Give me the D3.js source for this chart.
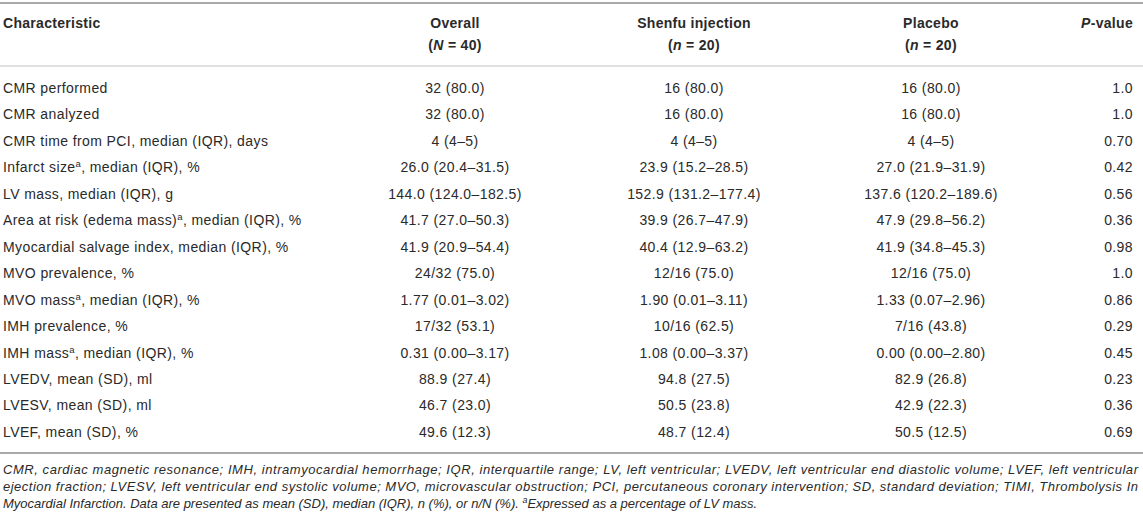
<!DOCTYPE html>
<meta charset="utf-8">
<head>
<style>
  body { margin: 0; background: #fff; }
  svg text { font-family: "Liberation Sans", Arial, sans-serif; fill: #2a2a2a; }
</style>
</head>
<body>
<script src="https://cdn.jsdelivr.net/npm/d3@7"></script>
<script>
// table content
var characteristics = [
  "CMR performed",
  "CMR analyzed",
  "CMR time from PCI, median (IQR), days",
  "Infarct size^a, median (IQR), %",
  "LV mass, median (IQR), g",
  "Area at risk (edema mass)^a, median (IQR), %",
  "Myocardial salvage index, median (IQR), %",
  "MVO prevalence, %",
  "MVO mass^a, median (IQR), %",
  "IMH prevalence, %",
  "IMH mass^a, median (IQR), %",
  "LVEDV, mean (SD), ml",
  "LVESV, mean (SD), ml",
  "LVEF, mean (SD), %"
];
var overall = ["32 (80.0)", "32 (80.0)", "4 (4–5)", "26.0 (20.4–31.5)", "144.0 (124.0–182.5)",
  "41.7 (27.0–50.3)", "41.9 (20.9–54.4)", "24/32 (75.0)", "1.77 (0.01–3.02)", "17/32 (53.1)",
  "0.31 (0.00–3.17)", "88.9 (27.4)", "46.7 (23.0)", "49.6 (12.3)"];
var shenfu = ["16 (80.0)", "16 (80.0)", "4 (4–5)", "23.9 (15.2–28.5)", "152.9 (131.2–177.4)",
  "39.9 (26.7–47.9)", "40.4 (12.9–63.2)", "12/16 (75.0)", "1.90 (0.01–3.11)", "10/16 (62.5)",
  "1.08 (0.00–3.37)", "94.8 (27.5)", "50.5 (23.8)", "48.7 (12.4)"];
var placebo = ["16 (80.0)", "16 (80.0)", "4 (4–5)", "27.0 (21.9–31.9)", "137.6 (120.2–189.6)",
  "47.9 (29.8–56.2)", "41.9 (34.8–45.3)", "12/16 (75.0)", "1.33 (0.07–2.96)", "7/16 (43.8)",
  "0.00 (0.00–2.80)", "82.9 (26.8)", "42.9 (22.3)", "50.5 (12.5)"];
var pValues = ["1.0", "1.0", "0.70", "0.42", "0.56", "0.36", "0.98", "1.0", "0.86", "0.29",
  "0.45", "0.23", "0.36", "0.69"];

var columnKeys = ["char", "overall", "shenfu", "placebo", "p"];
var headerLine1 = ["Characteristic", "Overall", "Shenfu injection", "Placebo", "*P*-value"];
var headerLine2 = ["", "(*N* = 40)", "(*n* = 20)", "(*n* = 20)", ""];

var footnotes = [
  "CMR, cardiac magnetic resonance; IMH, intramyocardial hemorrhage; IQR, interquartile range; LV, left ventricular; LVEDV, left ventricular end diastolic volume; LVEF, left ventricular",
  "ejection fraction; LVESV, left ventricular end systolic volume; MVO, microvascular obstruction; PCI, percutaneous coronary intervention; SD, standard deviation; TIMI, Thrombolysis In",
  "Myocardial Infarction. Data are presented as mean (SD), median (IQR), n (%), or n/N (%). ^aExpressed as a percentage of LV mass."
];

var W = 1143, H = 520;
var fs = 14;

var svg = d3.select("body").append("svg")
  .attr("width", W).attr("height", H);

// column x positions & anchors
var colX = d3.scaleOrdinal().domain(columnKeys).range([3, 455, 694, 931, 1133]);
var colAnchor = d3.scaleOrdinal().domain(columnKeys).range(["start", "middle", "middle", "middle", "end"]);

// rows
var rowY = d3.scalePoint().domain(d3.range(characteristics.length)).range([88, 432]);

// helper: write text with ^a superscripts and *italic* parts
function rich(sel, str) {
  var parts = str.split(/(\^a|\*[^*]+\*)/);
  parts.forEach(function(p) {
    if (!p) return;
    if (p === "^a") {
      sel.append("tspan").attr("baseline-shift", "super").attr("font-size", "68%").text("a");
    } else if (p[0] === "*") {
      sel.append("tspan").attr("font-style", "italic").text(p.slice(1, -1));
    } else {
      sel.append("tspan").text(p);
    }
  });
}

// rules
svg.append("line").attr("x1", 0).attr("x2", W).attr("y1", 3).attr("y2", 3)
  .attr("stroke", "#a9a9a9").attr("stroke-width", 2);
svg.append("line").attr("x1", 0).attr("x2", W).attr("y1", 66).attr("y2", 66)
  .attr("stroke", "#c4c4c4").attr("stroke-width", 1.2);
svg.append("line").attr("x1", 0).attr("x2", W).attr("y1", 453).attr("y2", 453)
  .attr("stroke", "#a9a9a9").attr("stroke-width", 2);

// header
columnKeys.forEach(function(k, i) {
  var t1 = svg.append("text")
    .attr("x", colX(k)).attr("y", 23).attr("dy", "0.35em")
    .attr("text-anchor", colAnchor(k)).attr("font-weight", "bold")
    .attr("font-size", fs).attr("letter-spacing", 0.3);
  rich(t1, headerLine1[i]);
  if (headerLine2[i]) {
    var t2 = svg.append("text")
      .attr("x", colX(k)).attr("y", 45).attr("dy", "0.35em")
      .attr("text-anchor", colAnchor(k)).attr("font-weight", "bold")
      .attr("font-size", fs).attr("letter-spacing", 0.3);
    rich(t2, headerLine2[i]);
  }
});

// body rows
var rows = characteristics.map(function(c, i) {
  return {char: c, overall: overall[i], shenfu: shenfu[i], placebo: placebo[i], p: pValues[i]};
});

rows.forEach(function(r, i) {
  columnKeys.forEach(function(k) {
    var t = svg.append("text")
      .attr("x", colX(k)).attr("y", rowY(i)).attr("dy", "0.35em")
      .attr("text-anchor", colAnchor(k))
      .attr("font-size", fs).attr("letter-spacing", 0.4);
    rich(t, r[k]);
  });
});

// footnotes
var footY = d3.scalePoint().domain(d3.range(footnotes.length)).range([469, 503]);
footnotes.forEach(function(f, i) {
  var t = svg.append("text")
    .attr("x", 3).attr("y", footY(i)).attr("dy", "0.35em")
    .attr("font-size", 13).attr("font-style", "italic");
  if (i < footnotes.length - 1) {
    t.attr("textLength", 1135).attr("lengthAdjust", "spacing");
  }
  rich(t, f);
});
</script>
</body>
